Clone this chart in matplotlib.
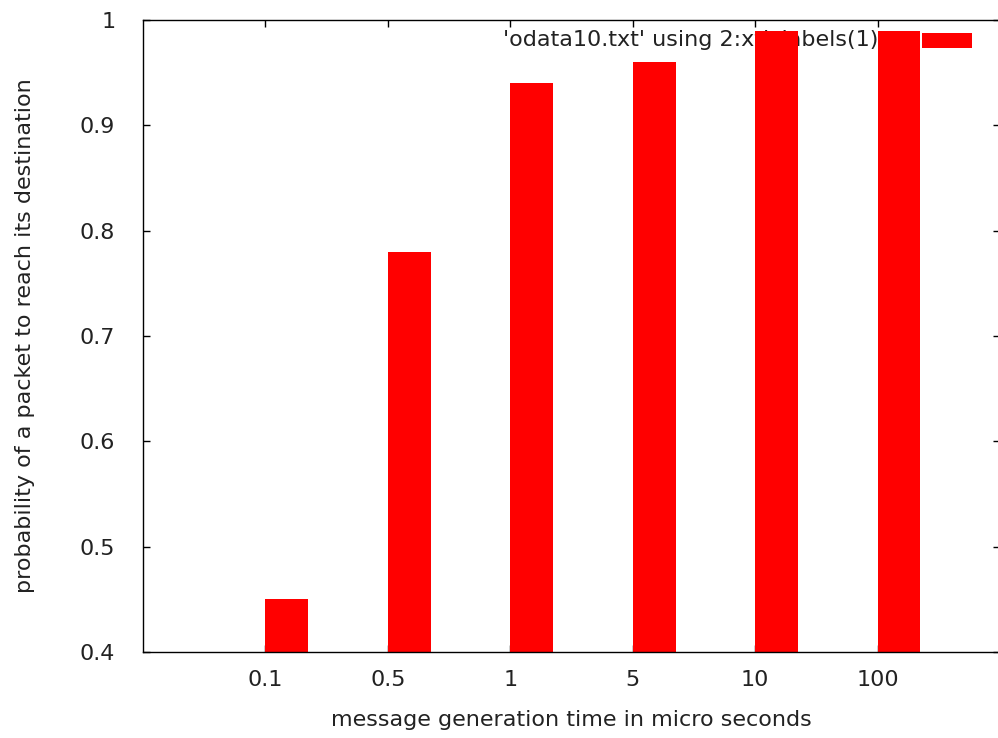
import matplotlib
matplotlib.use("Agg")
import matplotlib.pyplot as plt

# message generation time (us) and probability of delivery
gen_times = ["0.1", "0.5", "1", "5", "10", "100"]
probability = [0.45, 0.78, 0.94, 0.96, 0.99, 0.99]

plt.rcParams['font.family'] = ['DejaVu Sans']
plt.rcParams['font.size'] = 16

fig = plt.figure(figsize=(9.98, 7.38), dpi=100)
ax = fig.add_axes([143 / 998, 86 / 738, 857 / 998, 632 / 738])

xpos = list(range(1, len(gen_times) + 1))
ax.bar(xpos, probability, width=0.35, align='edge', color='#ff0000', zorder=3)

ax.set_xlim(0, 7)
ax.set_ylim(0.4, 1.0)
ax.set_xticks(xpos)
ax.set_xticklabels(gen_times)
ax.set_yticks([0.4, 0.5, 0.6, 0.7, 0.8, 0.9, 1.0])
ax.set_yticklabels(["0.4", "0.5", "0.6", "0.7", "0.8", "0.9", "1"])
ax.tick_params(direction='in', length=5, width=1, top=True, right=True,
               colors='black', labelcolor='#222222')
ax.tick_params(axis='y', pad=20)
ax.tick_params(axis='x', pad=13)

for sp in ax.spines.values():
    sp.set_linewidth(1)
    sp.set_zorder(4)

ax.set_xlabel("message generation time in micro seconds", color='#222222', labelpad=14)
ax.set_ylabel("probability of a packet to reach its destination", color='#222222', labelpad=32)

# gnuplot style key: text drawn under the bars, sample box to the right
ax.text(878, 738 - 40, "'odata10.txt' using 2:xticlabels(1)", transform=None,
        ha='right', va='center', color='#222222', zorder=1)
ax.add_patch(plt.Rectangle((922, 738 - 48), 50, 15, transform=None,
                           facecolor='#ff0000', edgecolor='none', zorder=3))

fig.savefig("out.png", dpi=100)
